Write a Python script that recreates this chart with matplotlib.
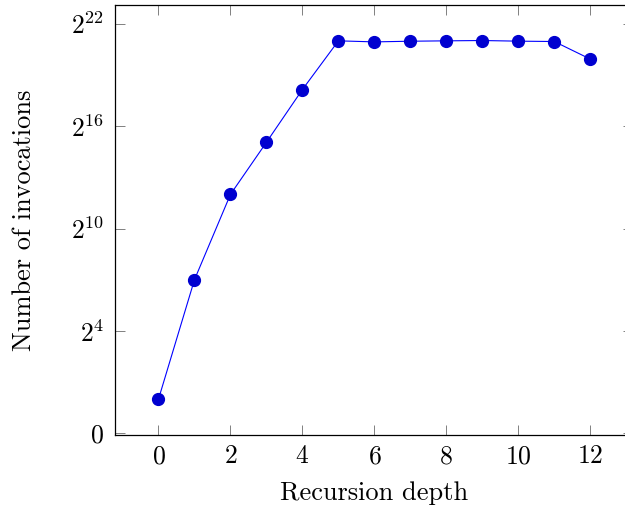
import matplotlib
matplotlib.use("Agg")
import matplotlib.pyplot as plt

plt.rcParams["mathtext.fontset"] = "cm"
plt.rcParams["font.family"] = ["cmr10", "DejaVu Serif"]
plt.rcParams["axes.formatter.use_mathtext"] = True

# (y is number of invocations, log2 scale)
depth = [0, 1, 2, 3, 4, 5, 6, 7, 8, 9, 10, 11, 12]
invocations = [1, 128, 4096, 34000, 290000, 2097152, 2010000, 2065000,
               2097152, 2125000, 2070000, 2040000, 1000000]

x_ticks = [0, 2, 4, 6, 8, 10, 12]
y_ticks = [2 ** -2, 2 ** 4, 2 ** 10, 2 ** 16, 2 ** 22]
y_tick_labels = ["$0$", "$2^{4}$", "$2^{10}$", "$2^{16}$", "$2^{22}$"]

fig = plt.figure(figsize=(6.25, 5.11), dpi=100)
ax = fig.add_axes([0.1845, 0.1487, 0.829, 0.8415])

ax.plot(depth, invocations, color="#0000ff", linewidth=0.8,
        marker="o", markersize=8.5, markerfacecolor="#0000d0",
        markeredgecolor="#0000d0")

ax.set_yscale("log", base=2)
ax.set_xlim(-1.2, 13.2)
ax.set_ylim(2 ** -2.1, 2 ** 23.1)
ax.set_xticks(x_ticks)
ax.set_xticklabels([f"${t}$" for t in x_ticks])
ax.set_yticks(y_ticks)
ax.set_yticklabels(y_tick_labels)
ax.minorticks_off()

ax.tick_params(direction="in", length=7.5, width=0.7, color="#808080",
               top=True, right=True, labelsize=18.5, pad=7)
ax.tick_params(axis="y", pad=8)
for s in ax.spines.values():
    s.set_linewidth(0.9)

ax.set_xlabel("Recursion depth", fontsize=19)
ax.set_ylabel("Number of invocations", fontsize=19)
ax.xaxis.set_label_coords(0.5, -0.108)
ax.yaxis.set_label_coords(-0.154, 0.5)

fig.savefig("out.png", dpi=100)
